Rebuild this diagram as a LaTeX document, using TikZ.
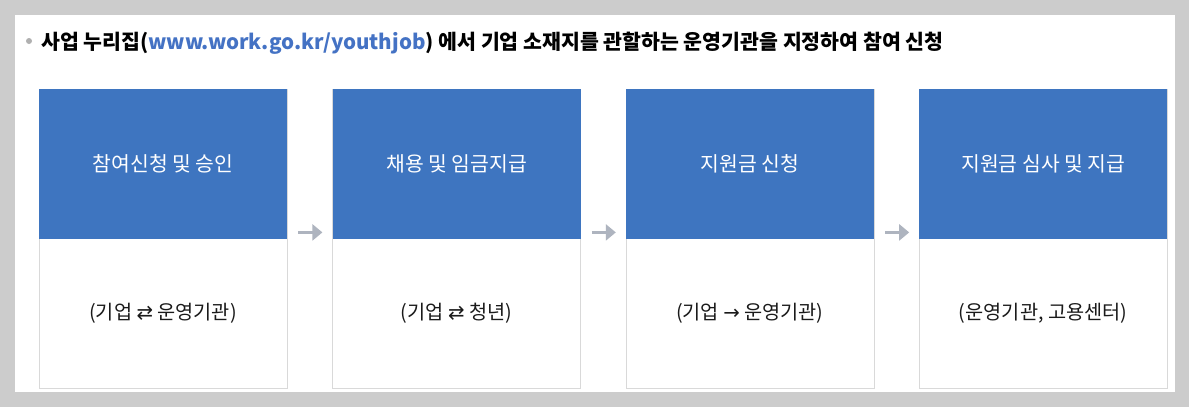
\documentclass[tikz,border=0pt]{standalone}
\usepackage{fontspec}
\usetikzlibrary{arrows.meta}
\setmainfont{Noto Sans CJK KR}
\newfontfamily\arrowfont{DejaVu Sans}
\definecolor{bggray}{HTML}{CCCCCC}
\definecolor{boxblue}{HTML}{3E75C0}
\definecolor{boxline}{HTML}{D9D9D9}
\definecolor{arrowgray}{HTML}{AEB4BF}
\definecolor{urlblue}{HTML}{4472C4}
\definecolor{bulletgray}{HTML}{B0B0B0}
\definecolor{textdark}{HTML}{1A1A1A}
\begin{document}
\begin{tikzpicture}[x=1bp,y=-1bp,
  stepcard/.style={draw=boxline,line width=1bp,fill=white,minimum width=248bp,minimum height=299bp,inner sep=0pt,anchor=north west},
  stephead/.style={fill=boxblue,draw=none,minimum width=248bp,minimum height=150bp,inner sep=0pt,anchor=north west,text=white,font=\fontsize{20.5}{23}\selectfont},
  stepnote/.style={text=textdark,font=\fontsize{19.8}{22}\selectfont,inner sep=0pt},
  flowarrow/.style={draw=arrowgray,line width=2.4bp,-{Triangle[length=10bp,width=16bp]}},
]
\useasboundingbox (0,0) rectangle (1189,407);
\fill[bggray] (0,0) rectangle (1189,407);
\fill[white] (15,15) rectangle (1175,392);
% title
\fill[bulletgray] (29,41) circle (3bp);
\node[anchor=west,inner sep=0pt,font=\fontsize{20.6}{24}\selectfont\bfseries] (title) at (41,43)
  {사업 누리집(\textcolor{urlblue}{www.work.go.kr/youthjob}) 에서 기업 소재지를 관할하는 운영기관을 지정하여 참여 신청};
% cards
\foreach \i/\head/\note in {
  0/{참여신청 및 승인}/{(기업 {\arrowfont ⇄} 운영기관)},
  1/{채용 및 임금지급}/{(기업 {\arrowfont ⇄} 청년)},
  2/{지원금 신청}/{(기업 {\arrowfont →} 운영기관)},
  3/{지원금 심사 및 지급}/{(운영기관, 고용센터)}} {
  \pgfmathsetmacro{\xx}{39+293.4*\i}
  \node[stepcard] (card\i) at (\xx,89) {};
  \node[stephead] (head\i) at (\xx,89) {\head};
  \node[stepnote] (note\i) at (\xx+124,313) {\note};
}
\foreach \i/\j in {0/1,1/2,2/3} {
  \coordinate (a\i) at ([xshift=11bp,yshift=7bp]head\i.south east);
  \coordinate (b\i) at ([xshift=-10bp,yshift=7bp]head\j.south west);
  \draw[flowarrow] (a\i) -- (b\i);
}
\end{tikzpicture}
\end{document}
